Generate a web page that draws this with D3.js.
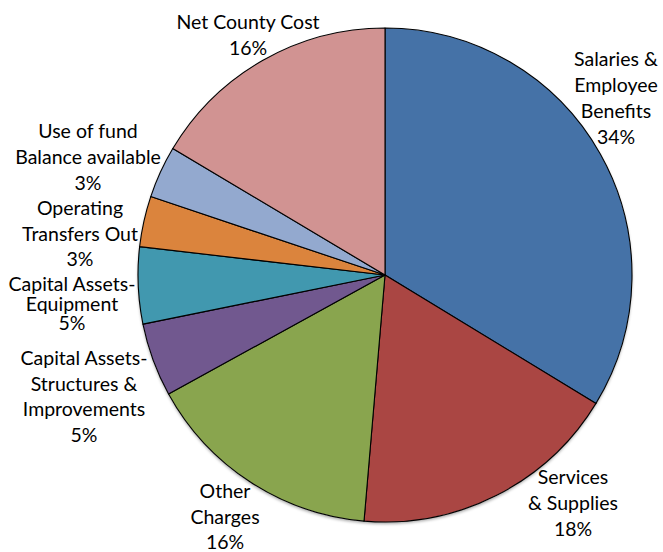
<!DOCTYPE html>
<html>
<head>
<meta charset="utf-8">
<script src="https://cdn.jsdelivr.net/npm/d3@7"></script>
<style>
  html, body { margin: 0; padding: 0; background: #ffffff; }
  svg { display: block; }
  text { font-family: Lato, "Open Sans", sans-serif; fill: #000; }
</style>
</head>
<body>
<svg id="chart" width="663" height="552"></svg>
<script>
// Budget share by category (percent of total)
const categories = [
  "Salaries & Employee Benefits",
  "Services & Supplies",
  "Other Charges",
  "Capital Assets-Structures & Improvements",
  "Capital Assets-Equipment",
  "Operating Transfers Out",
  "Use of fund Balance available",
  "Net County Cost"
];
const shares = [33.6, 17.6, 15.6, 4.8, 5.0, 3.3, 3.4, 16.4];
const colors = ["#4572A7", "#AA4643", "#89A54E", "#71588F", "#4198AF", "#DB843D", "#93A9CF", "#D19392"];

// Wrapped label lines for each category (percent line added from data)
const labelLines = [
  ["Salaries &", "Employee", "Benefits"],
  ["Services", "& Supplies"],
  ["Other", "Charges"],
  ["Capital Assets-", "Structures &", "Improvements"],
  ["Capital Assets-", "Equipment"],
  ["Operating", "Transfers Out"],
  ["Use of fund", "Balance available"],
  ["Net County Cost"]
];

const svg = d3.select("#chart");
const cx = 385, cy = 275, r = 247;

const total = d3.sum(shares);
const data = categories.map((c, i) => ({ name: c, value: shares[i], color: colors[i], lines: labelLines[i] }));

const pie = d3.pie().value(d => d.value).sort(null).startAngle(0).endAngle(2 * Math.PI);
const arc = d3.arc().innerRadius(0).outerRadius(r);
const arcs = pie(data);

// soft shadow under the pie
const defs = svg.append("defs");
const f = defs.append("filter").attr("id", "shadow").attr("x", "-10%").attr("y", "-10%").attr("width", "120%").attr("height", "120%");
f.append("feDropShadow").attr("dx", 0).attr("dy", 2).attr("stdDeviation", 1.5)
  .attr("flood-color", "#000").attr("flood-opacity", 0.35);

const g = svg.append("g").attr("transform", `translate(${cx},${cy})`);

g.append("circle").attr("r", r).attr("fill", "#fff").attr("filter", "url(#shadow)");

g.selectAll("path.slice")
  .data(arcs)
  .join("path")
  .attr("class", "slice")
  .attr("d", arc)
  .attr("fill", d => d.data.color)
  .attr("stroke", "#000")
  .attr("stroke-width", 1.1)
  .attr("stroke-linejoin", "round");

// Label placement: center x, first line center y, line spacing
const labelPos = [
  { x: 616, y: 58, dy: 26 },
  { x: 573, y: 476, dy: 26 },
  { x: 225, y: 490, dy: 25.5 },
  { x: 84, y: 357, dy: 25.7 },
  { x: 72, y: 283, dy: 19.5 },
  { x: 80, y: 207, dy: 25.5 },
  { x: 88, y: 130, dy: 26 },
  { x: 248, y: 21, dy: 26 }
];

const fmtPct = v => Math.round(v / total * 100) + "%";

const labels = svg.append("g").attr("class", "labels");
data.forEach((d, i) => {
  const p = labelPos[i];
  const lines = d.lines.concat([fmtPct(d.value)]);
  const t = labels.append("text")
    .attr("text-anchor", "middle")
    .attr("dominant-baseline", "central")
    .attr("font-size", 19.5);
  lines.forEach((ln, k) => {
    t.append("tspan").attr("x", p.x).attr("y", p.y + k * p.dy).text(ln);
  });
});
</script>
</body>
</html>
